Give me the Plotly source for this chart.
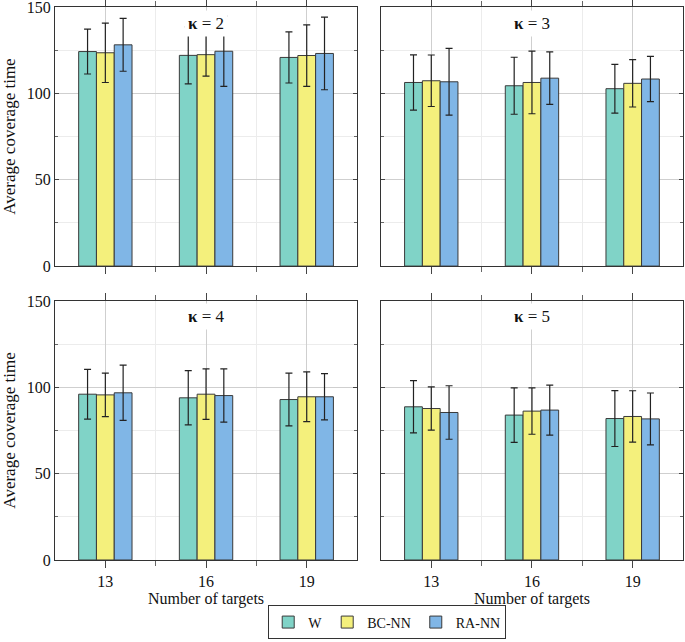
import plotly.graph_objects as go

targets = [13, 16, 19]
methods = ["W", "BC-NN", "RA-NN"]
colors = ["#80d3c7", "#f4f07c", "#80b6e6"]
kappas = [2, 3, 4, 5]

# mean average coverage time per kappa, per method (targets 13, 16, 19)
w_mean = {2: [124.2, 122.0, 120.8], 3: [106.3, 104.4, 102.7], 4: [96.0, 93.9, 92.9], 5: [88.7, 83.9, 81.9]}
bc_mean = {2: [123.5, 122.4, 121.9], 3: [107.3, 106.3, 105.8], 4: [95.6, 96.0, 94.5], 5: [87.7, 86.2, 83.1]}
ra_mean = {2: [128.1, 124.4, 123.1], 3: [106.7, 108.8, 108.3], 4: [96.8, 95.2, 94.5], 5: [85.4, 86.8, 81.7]}
# standard deviations (error bars)
w_err = {2: [13.0, 16.5, 14.8], 3: [16.0, 16.5, 14.1], 4: [14.4, 15.7, 15.3], 5: [15.1, 15.8, 16.2]}
bc_err = {2: [17.2, 12.4, 17.8], 3: [14.9, 18.1, 13.7], 4: [12.6, 14.6, 14.4], 5: [12.5, 13.4, 14.9]}
ra_err = {2: [15.3, 20.4, 21.0], 3: [19.3, 15.2, 13.1], 4: [16.0, 15.4, 13.4], 5: [15.5, 14.5, 15.0]}

means = [w_mean, bc_mean, ra_mean]
errs = [w_err, bc_err, ra_err]

FONT = "Liberation Serif"
fig = go.Figure()

dx = [[0, 0.481], [0.519, 1.0]]
dy = [[0.5315, 1.0], [0.0, 0.4685]]
panels = {2: (1, dx[0], dy[0]), 3: (2, dx[1], dy[0]), 4: (3, dx[0], dy[1]), 5: (4, dx[1], dy[1])}

for k in kappas:
    idx, xd, yd = panels[k]
    sfx = "" if idx == 1 else str(idx)
    for m in range(3):
        fig.add_trace(go.Bar(
            x=targets, y=means[m][k], name=methods[m],
            marker=dict(color=colors[m], line=dict(color="#3a3a3a", width=1)),
            error_y=dict(type="data", array=errs[m][k], color="#222222", thickness=1.2, width=3.5),
            xaxis=f"x{sfx}", yaxis=f"y{sfx}",
            showlegend=(k == 2), legendgroup=methods[m],
        ))
    bottom = k in (4, 5)
    left = k in (2, 4)
    fig.layout[f"xaxis{sfx}"] = dict(
        domain=xd, anchor=f"y{sfx}", range=[11.5, 20.5], automargin=False,
        tickvals=targets, ticktext=[str(t) for t in targets],
        showticklabels=bottom,
        ticks="outside", ticklen=7, tickcolor="#444", mirror="ticks",
        showline=True, linecolor="#333", linewidth=1.2,
        showgrid=True, gridcolor="#cfcfcf", gridwidth=1,
        minor=dict(tickvals=[14.5, 17.5], ticks="outside", ticklen=5, tickcolor="#666",
                   showgrid=True, gridcolor="#ececec", gridwidth=1),
        zeroline=False,
        tickfont=dict(family=FONT, size=16, color="#111"),
        title=dict(text="Number of targets", font=dict(family=FONT, size=16, color="#111"), standoff=3) if bottom else None,
    )
    fig.layout[f"yaxis{sfx}"] = dict(
        domain=yd, anchor=f"x{sfx}", range=[0, 150], automargin=False,
        tickvals=[0, 50, 100, 150], showticklabels=left, ticklabeloverflow="allow",
        ticks="inside", ticklen=4, tickcolor="#444", mirror="ticks",
        showline=True, linecolor="#333", linewidth=1.2,
        showgrid=True, gridcolor="#cfcfcf", gridwidth=1,
        minor=dict(tickvals=[25, 75, 125], ticks="inside", ticklen=3, tickcolor="#666",
                   showgrid=True, gridcolor="#ececec", gridwidth=1),
        zeroline=False,
        tickfont=dict(family=FONT, size=16, color="#111"),
        title=dict(text="Average coverage time", font=dict(family=FONT, size=17, color="#111"), standoff=8) if left else None,
    )
    fig.add_annotation(
        text=f"<b>κ</b> = {k}", xref=f"x{sfx} domain", yref=f"y{sfx} domain",
        x=0.5, y=0.938, xanchor="center", yanchor="middle", showarrow=False,
        bgcolor="white", borderpad=3,
        font=dict(family=FONT, size=17, color="#111"),
    )

fig.update_layout(
    width=685, height=642,
    margin=dict(l=55, r=2, t=7, b=80),
    barmode="group", bargap=0.47, bargroupgap=0,
    plot_bgcolor="white", paper_bgcolor="white",
    legend=dict(orientation="h", x=0.529, xanchor="center", y=-0.1437, yanchor="bottom",
                bordercolor="#333", borderwidth=1, bgcolor="white",
                font=dict(family=FONT, size=14, color="#111"),
                itemwidth=30, tracegroupgap=0),
    font=dict(family=FONT),
)

fig.write_html("out.html", config={"displayModeBar": False},
               post_script="document.body.style.margin='0';document.body.style.padding='0';")
